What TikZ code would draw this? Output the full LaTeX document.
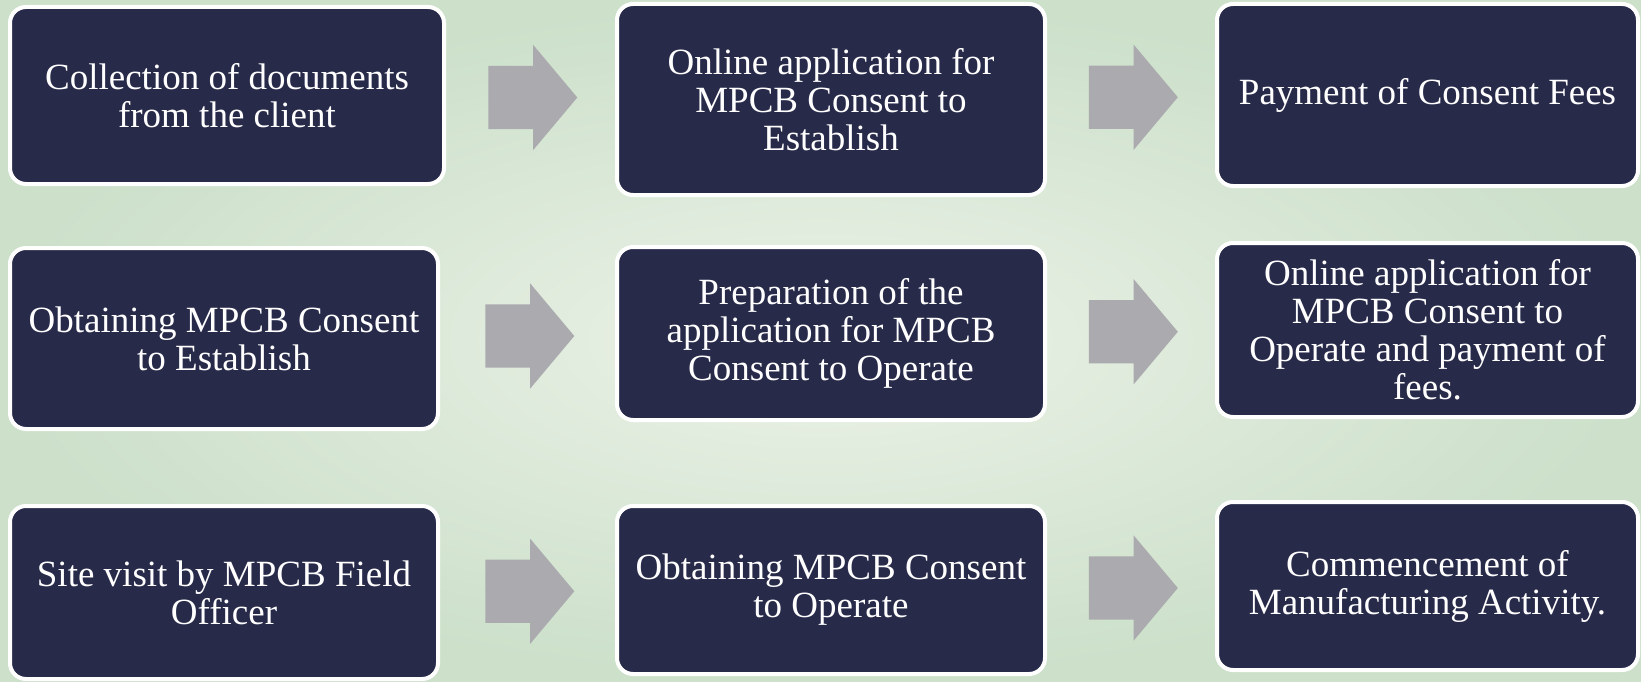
\documentclass[tikz,border=0pt]{standalone}
\usepackage{fontspec}
\setmainfont{Liberation Serif}
\usetikzlibrary{shapes.arrows,calc}
\definecolor{boxnavy}{RGB}{40,42,74}
\definecolor{arrowgray}{RGB}{170,170,175}
\definecolor{bgleaf}{RGB}{204,224,202}
\definecolor{bglight}{RGB}{236,242,232}
\tikzset{
  stepbox/.style={draw=white,line width=4pt,fill=boxnavy,rounded corners=16pt,
    text=white,align=center,inner sep=0pt,font=\fontsize{37}{38}\selectfont},
  flowarrow/.style={single arrow,fill=arrowgray,inner xsep=0pt,inner ysep=31.5pt,
    minimum height=89pt,single arrow head extend=21pt,single arrow tip angle=100,
    xshift=-11pt}
}

\begin{document}
\begin{tikzpicture}[x=1pt,y=-1pt]
  \clip (0,0) rectangle (1641,682);
  \shade[inner color=bglight,outer color=bgleaf] (0,0) rectangle (1641,682);
  \node[stepbox,minimum width=434pt,minimum height=177pt] (collect) at (227,95.5)
    {Collection of documents\\from the client};
  \node[stepbox,minimum width=428pt,minimum height=191pt] (applycte) at (831,99.5)
    {Online application for\\MPCB Consent to\\Establish};
  \node[stepbox,minimum width=421pt,minimum height=182pt] (payfees) at (1427.5,95)
    {Payment of Consent Fees};
  \node[stepbox,minimum width=428pt,minimum height=181pt] (getcte) at (224,338.5)
    {Obtaining MPCB Consent\\to Establish};
  \node[stepbox,minimum width=428pt,minimum height=173pt] (prepcto) at (831,333.5)
    {Preparation of the\\application for MPCB\\Consent to Operate};
  \node[stepbox,minimum width=421pt,minimum height=174pt] (applycto) at (1427.5,330)
    {Online application for\\MPCB Consent to\\Operate and payment of\\fees.};
  \node[stepbox,minimum width=428pt,minimum height=173pt] (sitevisit) at (224,592.5)
    {Site visit by MPCB Field\\Officer};
  \node[stepbox,minimum width=428pt,minimum height=168pt] (getcto) at (831,590)
    {Obtaining MPCB Consent\\to Operate};
  \node[stepbox,minimum width=421pt,minimum height=168pt] (commence) at (1427.5,586)
    {Commencement of\\Manufacturing Activity.};
  \foreach \a/\b in {collect/applycte,applycte/payfees,getcte/prepcto,
                     prepcto/applycto,sitevisit/getcto,getcto/commence} {
    \node[flowarrow] (\a-\b) at ($(\a.east)!0.5!(\b.west)$) {};
  }
\end{tikzpicture}
\end{document}
